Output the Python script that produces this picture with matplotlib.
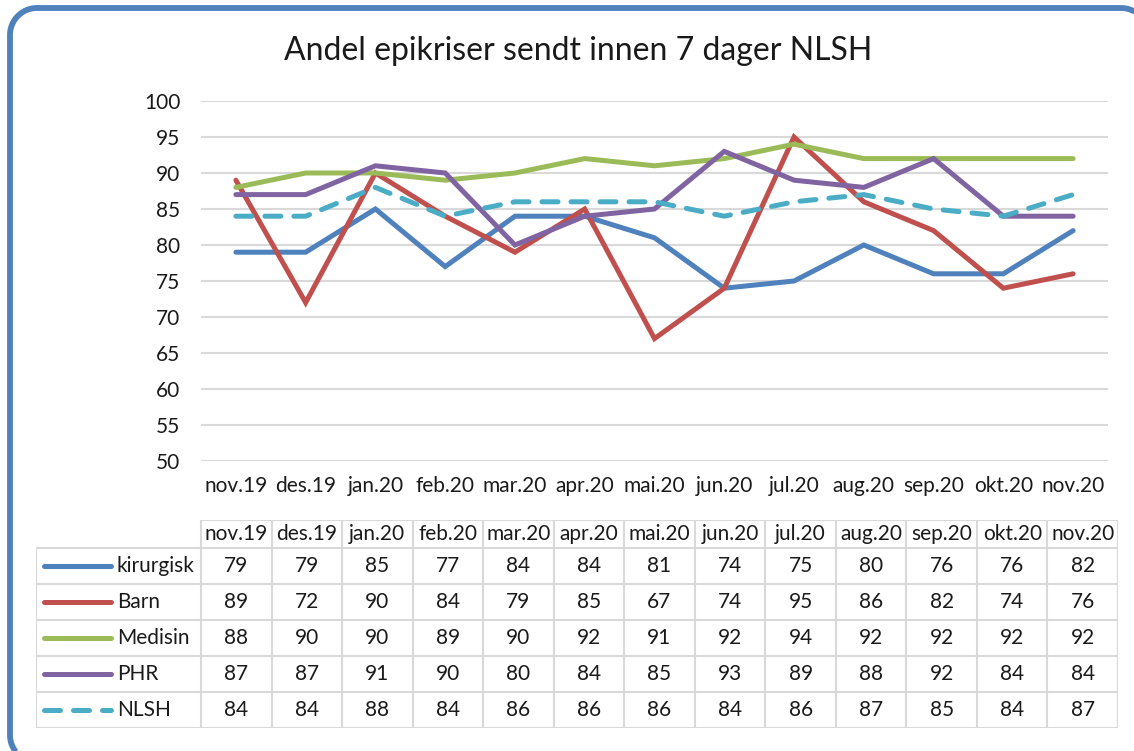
import matplotlib
matplotlib.use("Agg")
import matplotlib.pyplot as plt
import numpy as np

plt.rcParams['font.family'] = ['Lato', 'DejaVu Sans']

months = ["nov.19", "des.19", "jan.20", "feb.20", "mar.20", "apr.20", "mai.20",
          "jun.20", "jul.20", "aug.20", "sep.20", "okt.20", "nov.20"]
series_names = ["kirurgisk", "Barn", "Medisin", "PHR", "NLSH"]
kirurgisk = [79, 79, 85, 77, 84, 84, 81, 74, 75, 80, 76, 76, 82]
barn = [89, 72, 90, 84, 79, 85, 67, 74, 95, 86, 82, 74, 76]
medisin = [88, 90, 90, 89, 90, 92, 91, 92, 94, 92, 92, 92, 92]
phr = [87, 87, 91, 90, 80, 84, 85, 93, 89, 88, 92, 84, 84]
nlsh = [84, 84, 88, 84, 86, 86, 86, 84, 86, 87, 85, 84, 87]
yticks = list(range(50, 101, 5))
title = "Andel epikriser sendt innen 7 dager NLSH"

values = [kirurgisk, barn, medisin, phr, nlsh]
colors = ["#4F81BD", "#C0504D", "#9BBB59", "#8064A2", "#4BACC6"]
styles = ["-", "-", "-", "-", (0, (3.2, 2.6))]

W, H = 1134, 751
fig = plt.figure(figsize=(W / 100, H / 100), dpi=100)

def px_axes(x0, y0, x1, y1):
    return fig.add_axes([x0 / W, 1 - y1 / H, (x1 - x0) / W, (y1 - y0) / H])

# frame: rounded outline, only the part that lies inside the picture
bg = fig.add_axes([0, 0, 1, 1])
bg.set_xlim(0, W)
bg.set_ylim(H, 0)
bg.axis("off")
r, L, T, R, B = 27, 10, 8, 1148, 762
def arc(cx, cy, a0, a1):
    a = np.radians(np.linspace(a0, a1, 60))
    return cx + r * np.cos(a), cy + r * np.sin(a)
parts = [arc(L + r, B - r, 90, 180), arc(L + r, T + r, 180, 270), arc(R - r, T + r, 270, 360)]
fx = np.concatenate([p[0] for p in parts])
fy = np.concatenate([p[1] for p in parts])
keep = (fx <= W + 1) & (fy <= H + 1)
bg.plot(fx[keep], fy[keep], color="#4F81BD", lw=4.2, solid_capstyle="butt",
        solid_joinstyle="round")

fig.text(578 / W, 1 - 51 / H, title, ha="center", va="center", fontsize=23, color="#1a1a1a")

FS = 15
ax = px_axes(201, 101, 1108, 461)
x = list(range(len(months)))
for v, c, s in zip(values, colors, styles):
    ax.plot(x, v, color=c, linestyle=s, linewidth=3.6, solid_capstyle="round",
            dash_capstyle="round", solid_joinstyle="miter")
ax.set_xlim(-0.5, len(months) - 0.5)
ax.set_ylim(50, 100)
ax.set_yticks(yticks)
ax.set_yticklabels([str(t) for t in yticks], fontsize=FS, color="#1a1a1a")
ax.set_xticks(x)
ax.set_xticklabels(months, fontsize=FS, color="#1a1a1a")
ax.tick_params(length=0, pad=15, axis="y")
ax.tick_params(length=0, pad=11, axis="x")
ax.grid(axis="y", color="#D9D9D9", linewidth=1.5)
ax.set_axisbelow(True)
for sp in ax.spines.values():
    sp.set_visible(False)

# data table
tl, tr = 201, 1118
col_w = (tr - tl) / len(months)
left_units = (tl - 36) / col_w
at = px_axes(36, 520, tr, 728)
xl, xr, xd = -0.5 - left_units, len(months) - 0.5, -0.5
at.set_xlim(xl, xr)
at.set_ylim(728, 520)
at.axis("off")
rows = [520, 548, 584, 620, 656, 692, 728]
gc = "#D9D9D9"
glw = 1.5
at.plot([xd, xr], [rows[0], rows[0]], color=gc, lw=glw, solid_capstyle="projecting")
for rr in rows[1:]:
    at.plot([xl, xr], [rr, rr], color=gc, lw=glw, solid_capstyle="projecting")
at.plot([xl, xl], [rows[1], rows[-1]], color=gc, lw=glw, solid_capstyle="projecting")
for i in range(len(months) + 1):
    at.plot([i - 0.5, i - 0.5], [rows[0], rows[-1]], color=gc, lw=glw, solid_capstyle="projecting")
for i, m in enumerate(months):
    at.text(i, (rows[0] + rows[1]) / 2, m, ha="center", va="center", fontsize=FS, color="#1a1a1a")
lg0 = (44 - 36) / col_w + xl
lg1 = (111 - 36) / col_w + xl
lt = (117 - 36) / col_w + xl
for j, (name, v, c, s) in enumerate(zip(series_names, values, colors, styles)):
    yc = (rows[j + 1] + rows[j + 2]) / 2
    at.plot([lg0, lg1], [yc, yc], color=c, linestyle=s, lw=3.6,
            solid_capstyle="round", dash_capstyle="round")
    at.text(lt, yc, name, ha="left", va="center", fontsize=FS, color="#1a1a1a")
    for i, val in enumerate(v):
        at.text(i, yc, str(val), ha="center", va="center", fontsize=FS, color="#1a1a1a")

fig.savefig("out.png", dpi=100)
